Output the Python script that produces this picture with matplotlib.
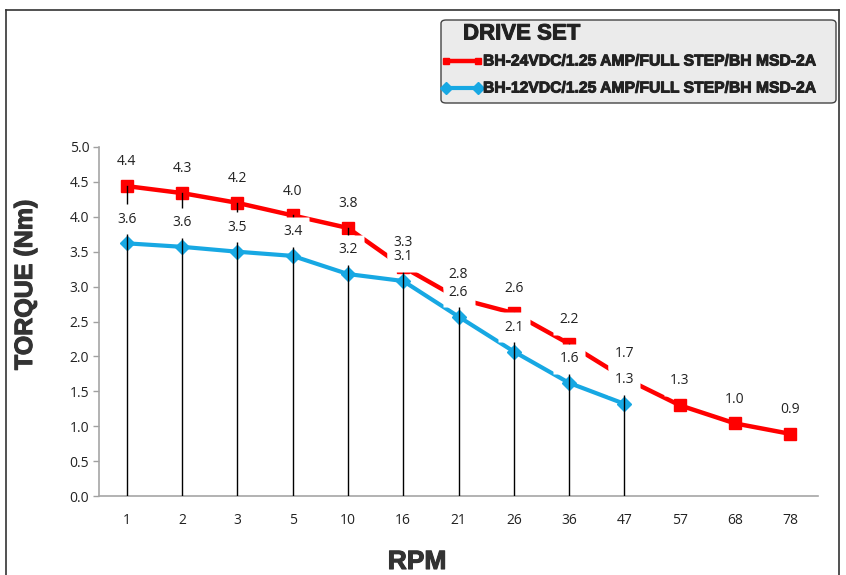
import matplotlib
matplotlib.use("Agg")
import matplotlib.pyplot as plt
from matplotlib.patches import FancyBboxPatch
from matplotlib.lines import Line2D
from matplotlib.transforms import offset_copy
import matplotlib.patheffects as pe

rpm_labels = ["1", "2", "3", "5", "10", "16", "21", "26", "36", "47", "57", "68", "78"]
torque_24v = [4.44, 4.34, 4.20, 4.02, 3.84, 3.28, 2.83, 2.62, 2.18, 1.69, 1.30, 1.04, 0.89]
torque_12v = [3.62, 3.57, 3.50, 3.44, 3.18, 3.08, 2.57, 2.07, 1.62, 1.32]
name_24v = "BH-24VDC/1.25 AMP/FULL STEP/BH MSD-2A"
name_12v = "BH-12VDC/1.25 AMP/FULL STEP/BH MSD-2A"
yticks = [0.0, 0.5, 1.0, 1.5, 2.0, 2.5, 3.0, 3.5, 4.0, 4.5, 5.0]

W, H = 846, 575
fig = plt.figure(figsize=(W / 100, H / 100), dpi=100)
fig.patch.set_facecolor("white")

def px(x, y):
    return x / W, 1 - y / H

ax = fig.add_axes([99 / W, 1 - 496 / H, (818 - 99) / W, (496 - 147) / H])
ax.set_facecolor("none")

RED = "#ff0000"
BLUE = "#17a8e3"
TFONT = "Open Sans"
heavy = [pe.withStroke(linewidth=0.7, foreground="#222222")]

x24 = list(range(len(torque_24v)))
x12 = list(range(len(torque_12v)))

ax.plot(x24, torque_24v, color=RED, lw=3.2, marker="s", ms=9, zorder=3)
ax.plot(x12, torque_12v, color=BLUE, lw=3.0, marker="D", ms=7, zorder=3)

# drop lines
for i in x12:
    top = max(torque_24v[i], torque_12v[i])
    ax.plot([i, i], [0, top], color="black", lw=1.0, zorder=4)

# data labels: white background boxes (zorder 5) + text on top (zorder 8)
OFF = 17.5
rect = [(-16, -15), (16, -15), (16, 15), (-16, 15), (-16, -15)]
lab_tr = offset_copy(ax.transData, fig=fig, x=0, y=OFF, units="points")
ax.plot(x24, torque_24v, ls="none", marker=rect, ms=23, mfc="white", mec="none",
        transform=lab_tr, zorder=5)
ax.plot(x12, torque_12v, ls="none", marker=rect, ms=23, mfc="white", mec="none",
        transform=lab_tr, zorder=5)
for xs, vals in ((x24, torque_24v), (x12, torque_12v)):
    for i, v in zip(xs, vals):
        ax.annotate(f"{v:.1f}", (i, v), xytext=(0, OFF), textcoords="offset points",
                    ha="center", va="center", fontsize=10, color="#222222",
                    family=TFONT, zorder=8)

ax.set_xlim(-0.5, len(rpm_labels) - 0.5)
ax.set_ylim(0, 5.0)
ax.set_xticks(x24)
ax.set_xticklabels(rpm_labels, family=TFONT, fontsize=10, color="#222222")
ax.set_yticks(yticks)
ax.set_yticklabels([f"{t:.1f}" for t in yticks], family=TFONT, fontsize=10, color="#222222")
ax.tick_params(axis="x", length=0, pad=12)
ax.tick_params(axis="y", length=4, width=1, color="#a0a0a0", pad=3)
for s in ["top", "right"]:
    ax.spines[s].set_visible(False)
for s in ["left", "bottom"]:
    ax.spines[s].set_color("#a6a6a6")
    ax.spines[s].set_linewidth(1.2)

# axis titles
fig.text(*px(25, 285), "TORQUE (Nm)", rotation=90, ha="center", va="center",
         fontsize=18, fontweight="bold", family="Liberation Sans", color="#333333",
         path_effects=[pe.withStroke(linewidth=0.8, foreground="#333333")])
fig.text(*px(417, 562), "RPM", ha="center", va="center",
         fontsize=19, fontweight="bold", family="Liberation Sans", color="#333333",
         path_effects=[pe.withStroke(linewidth=0.8, foreground="#333333")])

# outer frame
fig.add_artist(Line2D([6 / W, 6 / W], [0, 1 - 10 / H], transform=fig.transFigure, color="#333333", lw=1.2))
fig.add_artist(Line2D([6 / W, 839 / W], [1 - 10 / H, 1 - 10 / H], transform=fig.transFigure, color="#333333", lw=1.2))
fig.add_artist(Line2D([839 / W, 839 / W], [0, 1 - 10 / H], transform=fig.transFigure, color="#333333", lw=1.2))

# legend box
lx0, ly0, lx1, ly1 = 441, 20, 836, 103
leg = FancyBboxPatch((lx0 / W, 1 - ly1 / H), (lx1 - lx0) / W, (ly1 - ly0) / H,
                     boxstyle="round,pad=0,rounding_size=0.006", transform=fig.transFigure,
                     fc="#ebebeb", ec="#444444", lw=1.0)
fig.add_artist(leg)
fig.text(*px(463, 34), "DRIVE SET", ha="left", va="center", fontsize=16,
         fontweight="bold", family="Liberation Sans", color="#222222", path_effects=heavy)
fig.text(*px(483, 61), name_24v, ha="left", va="center", fontsize=11.3,
         fontweight="bold", family="Liberation Sans", color="#222222", path_effects=heavy)
fig.text(*px(483, 88), name_12v, ha="left", va="center", fontsize=11.3,
         fontweight="bold", family="Liberation Sans", color="#222222", path_effects=heavy)
fig.add_artist(Line2D([446 / W, 478 / W], [1 - 61 / H, 1 - 61 / H], transform=fig.transFigure,
                      color=RED, lw=3.2, marker="s", ms=5, markevery=[0, 1]))
fig.add_artist(Line2D([446 / W, 478 / W], [1 - 88 / H, 1 - 88 / H], transform=fig.transFigure,
                      color=BLUE, lw=3.0, marker="D", ms=6, markevery=[0, 1]))

fig.savefig("out.png", dpi=100)
